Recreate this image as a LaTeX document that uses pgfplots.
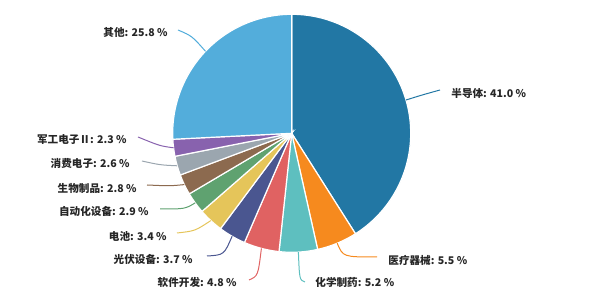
\documentclass[border=0pt]{standalone}
\usepackage{fontspec}
\setmainfont{Noto Sans CJK SC}
\usepackage{pgfplots}
\pgfplotsset{compat=1.18}
\definecolor{c1}{HTML}{2277A4}
\definecolor{c2}{HTML}{F68A1E}
\definecolor{c3}{HTML}{5EBFBF}
\definecolor{c4}{HTML}{E06262}
\definecolor{c5}{HTML}{4A5690}
\definecolor{c6}{HTML}{E5C55A}
\definecolor{c7}{HTML}{5FA270}
\definecolor{c8}{HTML}{8C6A4F}
\definecolor{c9}{HTML}{9BA6AF}
\definecolor{c10}{HTML}{8862AE}
\definecolor{c11}{HTML}{53ADDB}
\begin{document}
\begin{tikzpicture}[lbl/.style={font=\fontsize{5.3}{6}\selectfont\bfseries, text=black!85, inner sep=0pt}]
\begin{axis}[width=300pt,height=146pt,scale only axis,xmin=0,xmax=600,ymin=0,ymax=292,y dir=reverse,hide axis,clip=false]
\pgfplotsextra{
 \path (axis cs:0,0) rectangle (axis cs:600,292);
 \gdef\cum{0}
 \foreach \v/\c in {41.0/c1,5.5/c2,5.2/c3,4.8/c4,3.7/c5,3.4/c6,2.9/c7,2.8/c8,2.6/c9,2.3/c10,25.8/c11}{
   \pgfmathsetmacro\sa{90-3.6*\cum}
   \pgfmathsetmacro\ea{90-3.6*(\cum+\v)}
   \fill[\c,draw=white,line width=0.6pt] (axis cs:291.7,133.3) -- ++(\sa:59.5pt) arc[start angle=\sa,end angle=\ea,radius=59.5pt] -- cycle;
   \pgfmathsetmacro\newcum{\cum+\v}
   \xdef\cum{\newcum}
 }
 % leader lines
 \draw[c1,line width=0.5pt] (axis cs:406,100) .. controls (axis cs:422,95) .. (axis cs:440,90);
 \draw[c2,line width=0.5pt] (axis cs:337.2,243.2) .. controls (axis cs:343,257) .. (axis cs:377,257);
 \draw[c3,line width=0.5pt] (axis cs:298.4,252.1) .. controls (axis cs:299.5,280) .. (axis cs:305,282);
 \draw[c4,line width=0.5pt] (axis cs:261.4,248.4) .. controls (axis cs:258,276) .. (axis cs:249,280);
 \draw[c5,line width=0.5pt] (axis cs:232.1,236.3) .. controls (axis cs:224,255) .. (axis cs:207,256);
 \draw[c6,line width=0.5pt] (axis cs:210.8,220.6) .. controls (axis cs:195,231) .. (axis cs:177,233);
 \draw[c7,line width=0.5pt] (axis cs:195.2,202.9) .. controls (axis cs:185,209) .. (axis cs:160,209);
 \draw[c8,line width=0.5pt] (axis cs:184.4,184.6) .. controls (axis cs:170,186) .. (axis cs:147,185);
 \draw[c9,line width=0.5pt] (axis cs:177.2,165.8) .. controls (axis cs:160,165) .. (axis cs:142,161);
 \draw[c10,line width=0.5pt] (axis cs:173.6,147.8) .. controls (axis cs:160,146) .. (axis cs:138,137);
 \draw[c11,line width=0.5pt] (axis cs:205.5,51.3) .. controls (axis cs:192,36) .. (axis cs:178,30);
 % labels
 \node[lbl,anchor=west] at (axis cs:451,93) {半导体: 41.0 \%};
 \node[lbl,anchor=west] at (axis cs:388,260) {医疗器械: 5.5 \%};
 \node[lbl,anchor=west] at (axis cs:315,282) {化学制药: 5.2 \%};
 \node[lbl,anchor=east] at (axis cs:237,282) {软件开发: 4.8 \%};
 \node[lbl,anchor=east] at (axis cs:193,259) {光伏设备: 3.7 \%};
 \node[lbl,anchor=east] at (axis cs:167,236) {电池: 3.4 \%};
 \node[lbl,anchor=east] at (axis cs:149,211) {自动化设备: 2.9 \%};
 \node[lbl,anchor=east] at (axis cs:137,188) {生物制品: 2.8 \%};
 \node[lbl,anchor=east] at (axis cs:130,163) {消费电子: 2.6 \%};
 \node[lbl,anchor=east] at (axis cs:127,140) {军工电子Ⅱ: 2.3 \%};
 \node[lbl,anchor=east] at (axis cs:168,32) {其他: 25.8 \%};
}
\end{axis}
\end{tikzpicture}
\end{document}
